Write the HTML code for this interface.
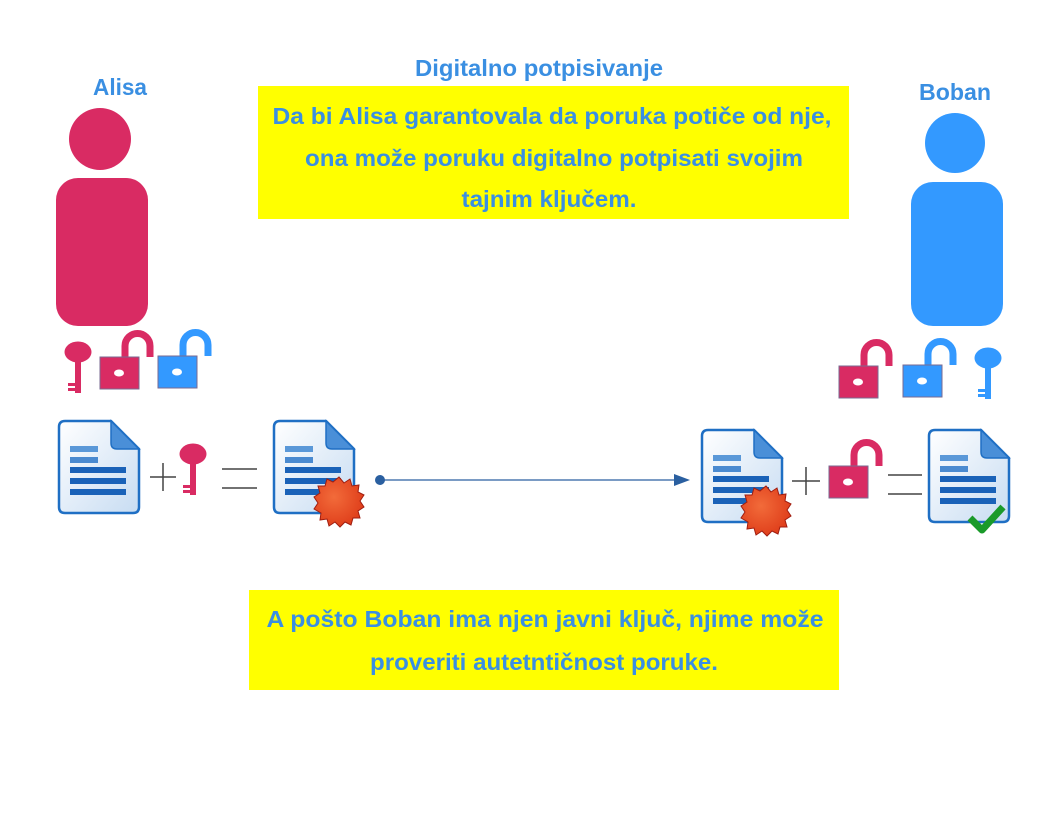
<!DOCTYPE html>
<html><head><meta charset="utf-8"><style>
html,body{margin:0;padding:0;background:#fff;}
svg{display:block;}
text{font-family:"Liberation Sans",sans-serif;font-weight:bold;fill:#3a8fe2;}
</style></head><body>
<svg width="1056" height="816" viewBox="0 0 1056 816" xmlns="http://www.w3.org/2000/svg">
<defs>
<linearGradient id="dg" x1="0" y1="0" x2="1" y2="1">
<stop offset="0" stop-color="#ffffff"/><stop offset="1" stop-color="#c7dcf2"/></linearGradient>
<radialGradient id="sg" cx="0.4" cy="0.4" r="0.6"><stop offset="0" stop-color="#f26b3a"/><stop offset="1" stop-color="#e0401c"/></radialGradient>
<g id="doc">
<path d="M6 0 H52 L80 28 V86 Q80 92 74 92 H6 Q0 92 0 86 V6 Q0 0 6 0Z" fill="url(#dg)" stroke="#1f6fc4" stroke-width="2.5"/>
<path d="M52 0 L52 22 Q52 28 58 28 L80 28Z" fill="#4a8fd8" stroke="#1f6fc4" stroke-width="1.5"/>
<rect x="11" y="25" width="28" height="6" fill="#5a98d8"/>
<rect x="11" y="36" width="28" height="6" fill="#4a8ad0"/>
<rect x="11" y="46" width="56" height="6" fill="#1a62b8"/>
<rect x="11" y="57" width="56" height="6" fill="#1a62b8"/>
<rect x="11" y="68" width="56" height="6" fill="#1a62b8"/>
</g>
<g id="seal">
<polygon points="0,-25 5,-19 11,-23 13,-16 20,-17 19,-10 25,-7 21,-1 25,5 19,9 21,16 14,16 12,23 6,20 1,25 -4,20 -10,24 -12,17 -19,18 -18,11 -25,7 -21,1 -25,-5 -19,-9 -21,-16 -14,-16 -12,-23 -6,-20" fill="url(#sg)" stroke="#a01d10" stroke-width="1"/>
</g>
<g id="lock">
<path d="M25 25 V13 A12.5 12.5 0 0 1 50 13 V24" fill="none" stroke="currentColor" stroke-width="7"/>
<rect x="0" y="24" width="39" height="32" fill="currentColor" stroke="#7a6a90" stroke-width="1"/>
<ellipse cx="19" cy="40" rx="5" ry="3.5" fill="#fff"/>
</g>
<g id="key">
<ellipse cx="13" cy="9" rx="13.5" ry="10.5" fill="currentColor"/>
<rect x="10" y="16" width="6" height="34" fill="currentColor"/>
<rect x="3" y="40" width="8" height="3" fill="currentColor"/>
<rect x="3" y="45" width="8" height="3" fill="currentColor"/>
</g>
</defs>

<text x="539" y="76" font-size="23" textLength="248" lengthAdjust="spacingAndGlyphs" text-anchor="middle">Digitalno potpisivanje</text>
<text x="120" y="95" font-size="23" textLength="54" lengthAdjust="spacingAndGlyphs" text-anchor="middle">Alisa</text>
<text x="955" y="100" font-size="23" textLength="72" lengthAdjust="spacingAndGlyphs" text-anchor="middle">Boban</text>

<rect x="258" y="86" width="591" height="133" fill="#ffff00"/>
<text x="552" y="124" font-size="23" textLength="559" lengthAdjust="spacingAndGlyphs" text-anchor="middle">Da bi Alisa garantovala da poruka potiče od nje,</text>
<text x="554" y="166" font-size="23" textLength="498" lengthAdjust="spacingAndGlyphs" text-anchor="middle">ona može poruku digitalno potpisati svojim</text>
<text x="549" y="207" font-size="23" textLength="175" lengthAdjust="spacingAndGlyphs" text-anchor="middle">tajnim ključem.</text>

<rect x="249" y="590" width="590" height="100" fill="#ffff00"/>
<text x="545" y="627" font-size="23" textLength="557" lengthAdjust="spacingAndGlyphs" text-anchor="middle">A pošto Boban ima njen javni ključ, njime može</text>
<text x="544" y="670" font-size="23" textLength="348" lengthAdjust="spacingAndGlyphs" text-anchor="middle">proveriti autetntičnost poruke.</text>

<circle cx="100" cy="139" r="31" fill="#d92b63"/>
<rect x="56" y="178" width="92" height="148" rx="22" fill="#d92b63"/>
<circle cx="955" cy="143" r="30" fill="#3399ff"/>
<rect x="911" y="182" width="92" height="144" rx="22" fill="#3399ff"/>

<use href="#key" x="65" y="343" style="color:#d92b63"/>
<use href="#lock" x="100" y="333" style="color:#d92b63"/>
<use href="#lock" x="158" y="332" style="color:#3399ff;" transform="translate(0,0)"/>

<use href="#lock" x="839" y="342" style="color:#d92b63"/>
<use href="#lock" x="903" y="341" style="color:#3399ff"/>
<use href="#key" x="975" y="349" style="color:#3399ff"/>

<use href="#doc" x="59" y="421"/>
<path d="M150 477 H176 M163 463 V491" stroke="#444" stroke-width="1.5"/>
<use href="#key" x="180" y="445" style="color:#d92b63"/>
<path d="M222 469 H257 M222 488 H257" stroke="#444" stroke-width="1.5"/>
<use href="#doc" x="274" y="421"/>
<use href="#seal" x="339" y="502"/>

<circle cx="380" cy="480" r="5" fill="#2a5fa0"/>
<line x1="380" y1="480" x2="676" y2="480" stroke="#2a5fa0" stroke-width="1.2"/>
<polygon points="690,480 674,474 674,486" fill="#2a5fa0"/>

<use href="#doc" x="702" y="430"/>
<use href="#seal" x="766" y="511"/>
<path d="M792 481 H820 M806 467 V495" stroke="#444" stroke-width="1.5"/>
<use href="#lock" x="829" y="442" style="color:#d92b63"/>
<path d="M888 475 H922 M888 494 H922" stroke="#444" stroke-width="1.5"/>
<use href="#doc" x="929" y="430"/>
<path d="M970 518 L982 530 L1003 507" fill="none" stroke="#1a9a2a" stroke-width="7" stroke-linejoin="round"/>
</svg>
</body></html>
